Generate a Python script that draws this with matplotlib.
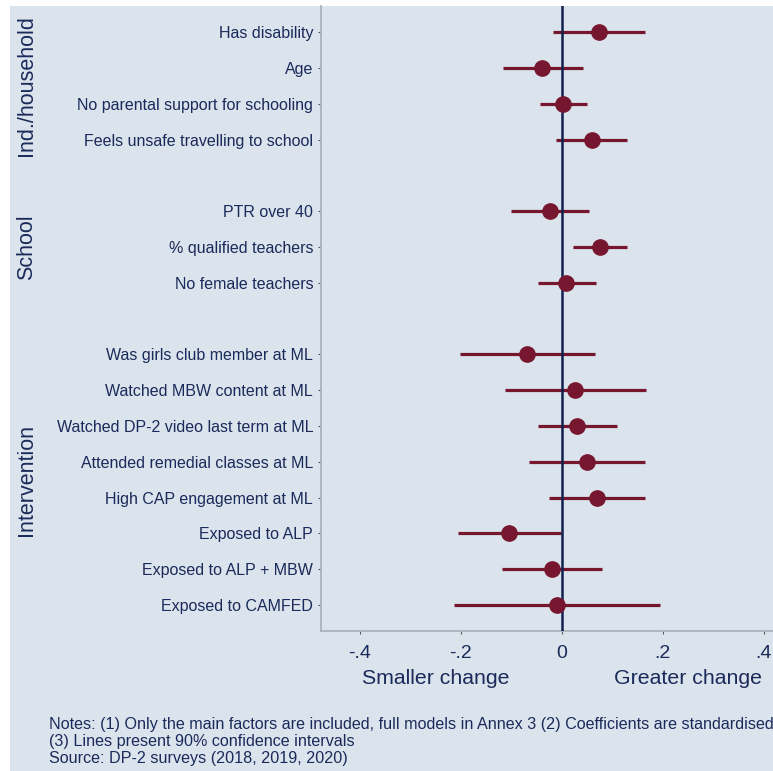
import matplotlib
matplotlib.use("Agg")
import matplotlib.pyplot as plt
import matplotlib.transforms as mtransforms
from matplotlib.patches import Rectangle

plt.rcParams['font.family'] = ['Liberation Sans', 'DejaVu Sans']

# coefficient estimates with 90% confidence intervals
labels = ["Has disability", "Age", "No parental support for schooling",
          "Feels unsafe travelling to school",
          "PTR over 40", "% qualified teachers", "No female teachers",
          "Was girls club member at ML", "Watched MBW content at ML",
          "Watched DP-2 video last term at ML", "Attended remedial classes at ML",
          "High CAP engagement at ML", "Exposed to ALP", "Exposed to ALP + MBW",
          "Exposed to CAMFED"]
rows = [0, 1, 2, 3, 5, 6, 7, 9, 10, 11, 12, 13, 14, 15, 16]
coef = [0.073, -0.039, 0.002, 0.060,
        -0.024, 0.076, 0.009,
        -0.068, 0.026, 0.030, 0.049, 0.069, -0.104, -0.020, -0.010]
lo = [-0.018, -0.117, -0.044, -0.011,
      -0.101, 0.023, -0.048,
      -0.201, -0.113, -0.047, -0.064, -0.025, -0.205, -0.119, -0.214]
hi = [0.164, 0.041, 0.049, 0.130,
      0.053, 0.130, 0.067,
      0.065, 0.167, 0.110, 0.165, 0.164, -0.002, 0.080, 0.194]

groups = ["Ind./household", "School", "Intervention"]
group_rows = [(0, 3), (5, 7), (9, 16)]

xticks = [-0.4, -0.2, 0, 0.2, 0.4]
xticklabels = ["-.4", "-.2", "0", ".2", ".4"]

bg = "#dbe3ec"
navy = "#1a2a5a"
maroon = "#76172f"
spine = "#a9b3bd"

fig = plt.figure(figsize=(7.73, 7.71), dpi=100)
fig.patch.set_facecolor("white")
fig.patches.append(Rectangle((10 / 773, -0.01), 1, 1.01 - 6 / 771,
                             transform=fig.transFigure, facecolor=bg,
                             edgecolor="none", zorder=-10))

ax = fig.add_axes([0.415, 0.182, 0.585, 0.810])
ax.set_facecolor(bg)

ax.hlines(rows, lo, hi, color=maroon, lw=2.3, zorder=2)
ax.axvline(0, color="#10204f", lw=1.8, zorder=3)
ax.plot(coef, rows, "o", color=maroon, ms=11, zorder=4)

ax.set_xlim(-0.477, 0.418)
ax.set_ylim(16.72, -0.73)

ax.set_yticks(rows)
ax.set_yticklabels(labels)
ax.set_xticks(xticks)
ax.set_xticklabels(xticklabels)

for s in ["top", "right"]:
    ax.spines[s].set_visible(False)
for s in ["left", "bottom"]:
    ax.spines[s].set_color(spine)
    ax.spines[s].set_linewidth(1.3)

ax.tick_params(axis="y", length=2.5, width=0.8, color="#555555",
               labelcolor=navy, labelsize=11.5, pad=3)
ax.tick_params(axis="x", length=2.5, width=0.8, color="#555555",
               labelcolor=navy, labelsize=14, pad=8)

# direction labels under the axis
trans = mtransforms.blended_transform_factory(ax.transData, fig.transFigure)
ax.text(-0.25, 1 - 678 / 771, "Smaller change", transform=trans,
        ha="center", va="center", fontsize=15.3, color=navy)
ax.text(0.25, 1 - 678 / 771, "Greater change", transform=trans,
        ha="center", va="center", fontsize=15.3, color=navy)

# group titles on the left
tg = mtransforms.blended_transform_factory(fig.transFigure, ax.transData)
for g, (a, b) in zip(groups, group_rows):
    fig.text(27 / 773, (a + b) / 2, g, transform=tg, rotation=90,
             ha="center", va="center", fontsize=15.5, color=navy)

notes = ("Notes: (1) Only the main factors are included, full models in Annex 3 "
         "(2) Coefficients are standardised\n"
         "(3) Lines present 90% confidence intervals\n"
         "Source: DP-2 surveys (2018, 2019, 2020)")
fig.text(49 / 773, 1 - 717 / 771, notes, ha="left", va="top",
         fontsize=11.6, color=navy, linespacing=1.15)

fig.savefig("out.png", dpi=100, facecolor=fig.get_facecolor())
